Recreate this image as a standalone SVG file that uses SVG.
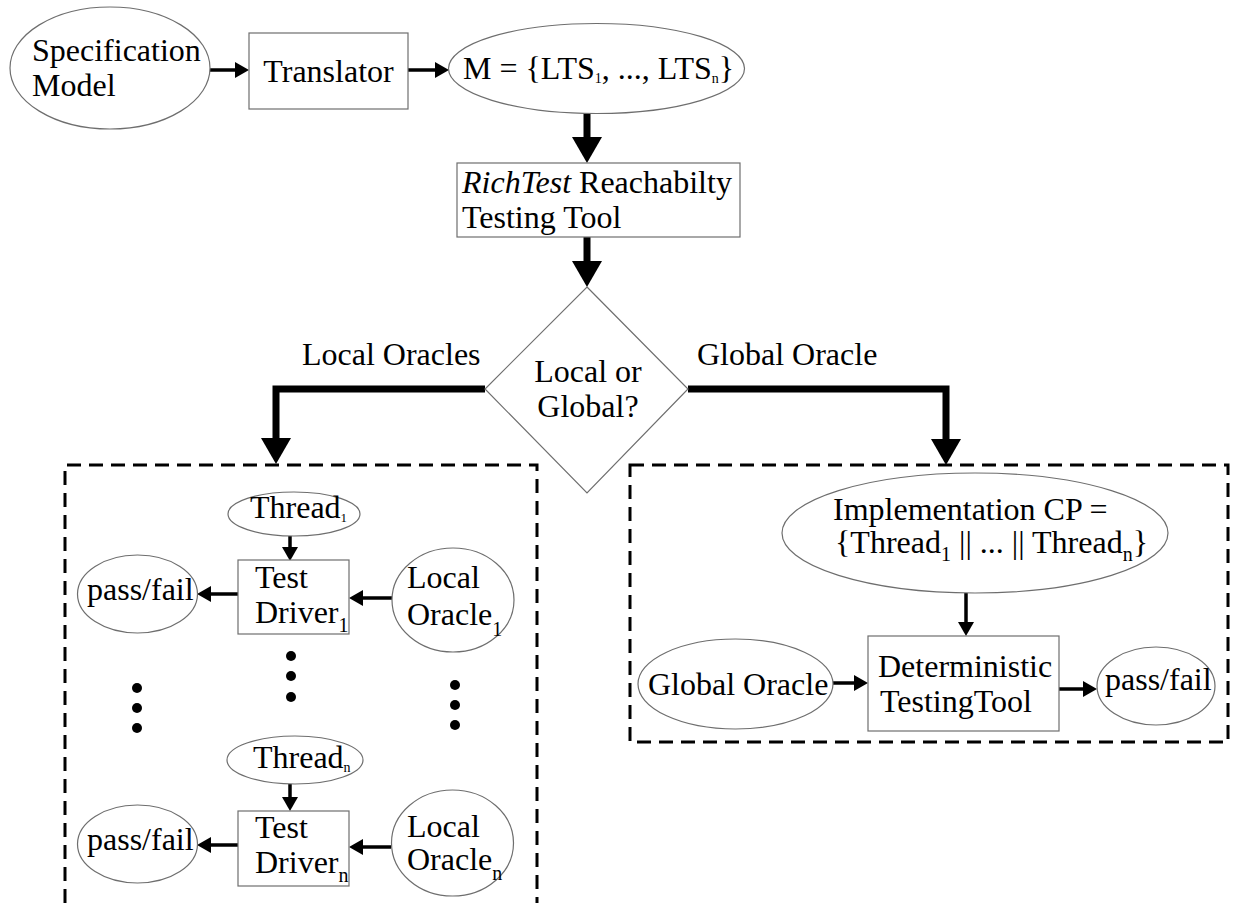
<svg xmlns="http://www.w3.org/2000/svg" width="1233" height="903" viewBox="0 0 1233 903">
<style>
text{font-family:"Liberation Serif","Times New Roman",serif;font-size:32px;fill:#000}
.shape{fill:#fff;stroke:#6e6e6e;stroke-width:1.2}
.dash{fill:none;stroke:#000;stroke-width:3;stroke-dasharray:14 8}
.thin{fill:none;stroke:#000;stroke-width:3.5}
.thick{fill:none;stroke:#000;stroke-width:7}
.dot{fill:#000}
.sub1{font-size:14px}
.sub2{font-size:20px}
</style>
<defs>
<marker id="ahS" markerUnits="userSpaceOnUse" markerWidth="14" markerHeight="16" refX="0" refY="8" orient="auto"><path d="M0,0 L14,8 L0,16 z" fill="#000"/></marker>
<marker id="ahL" markerUnits="userSpaceOnUse" markerWidth="26" markerHeight="30" refX="0" refY="15" orient="auto"><path d="M0,0 L26,15 L0,30 z" fill="#000"/></marker>
</defs>

<g id="frames">
<path class="dash" d="M65,903 V465 H537 V903"/>
<rect class="dash" x="630" y="465" width="598" height="277"/>
</g>

<g id="connectors">
<line class="thin" x1="210" y1="70" x2="235" y2="70" marker-end="url(#ahS)"/>
<line class="thin" x1="408" y1="70" x2="435" y2="70" marker-end="url(#ahS)"/>
<line class="thick" x1="587" y1="113" x2="587" y2="137" marker-end="url(#ahL)"/>
<line class="thick" x1="587" y1="237" x2="587" y2="261" marker-end="url(#ahL)"/>
<path class="thick" d="M485,389 H276 V438" marker-end="url(#ahL)"/>
<path class="thick" d="M688,389 H946 V439" marker-end="url(#ahL)"/>
<line class="thin" x1="290" y1="536" x2="290" y2="547" marker-end="url(#ahS)"/>
<line class="thin" x1="238" y1="594" x2="211" y2="594" marker-end="url(#ahS)"/>
<line class="thin" x1="392" y1="598" x2="363" y2="598" marker-end="url(#ahS)"/>
<line class="thin" x1="290" y1="784" x2="290" y2="797" marker-end="url(#ahS)"/>
<line class="thin" x1="238" y1="845" x2="211" y2="845" marker-end="url(#ahS)"/>
<line class="thin" x1="391" y1="847" x2="363" y2="847" marker-end="url(#ahS)"/>
<line class="thin" x1="966" y1="593" x2="966" y2="622" marker-end="url(#ahS)"/>
<line class="thin" x1="833" y1="683" x2="854" y2="683" marker-end="url(#ahS)"/>
<line class="thin" x1="1059" y1="689" x2="1083" y2="689" marker-end="url(#ahS)"/>
</g>

<g id="spec">
<ellipse class="shape" cx="110" cy="68" rx="100" ry="61"/>
<text x="32" y="61">Specification</text>
<text x="32" y="96">Model</text>
</g>

<g id="translator">
<rect class="shape" x="249" y="33" width="159" height="76"/>
<text x="328.5" y="82" text-anchor="middle">Translator</text>
</g>

<g id="model">
<ellipse class="shape" cx="596.5" cy="68.5" rx="148" ry="45"/>
<text x="463" y="79">M = {LTS<tspan class="sub1" dy="4">1</tspan><tspan dy="-4">, ..., LTS</tspan><tspan class="sub1" dy="4">n</tspan><tspan dy="-4">}</tspan></text>
</g>

<g id="richtest">
<rect class="shape" x="457" y="163" width="283" height="74"/>
<text x="462" y="193"><tspan font-style="italic">RichTest</tspan> Reachabilty</text>
<text x="462" y="228">Testing Tool</text>
</g>

<g id="decision">
<polygon class="shape" points="587,287 688,389 587,493 485,389"/>
<text x="588" y="382" text-anchor="middle">Local or</text>
<text x="588" y="417" text-anchor="middle">Global?</text>
</g>

<g id="labels">
<text x="302" y="365">Local Oracles</text>
<text x="697" y="365">Global Oracle</text>
</g>

<g id="thread1">
<ellipse class="shape" cx="294" cy="514" rx="66" ry="22"/>
<text x="250" y="518">Thread<tspan style="font-size:13px" dy="4">1</tspan></text>
</g>
<g id="driver1">
<rect class="shape" x="238" y="560" width="111" height="74"/>
<text x="255" y="588">Test</text>
<text x="255" y="623">Driver<tspan class="sub2" dy="9">1</tspan></text>
</g>
<g id="passfail1">
<ellipse class="shape" cx="137.5" cy="594" rx="60" ry="39"/>
<text x="87" y="600">pass/fail</text>
</g>
<g id="localoracle1">
<ellipse class="shape" cx="453" cy="600" rx="61" ry="52"/>
<text x="407" y="588">Local</text>
<text x="407" y="625">Oracle<tspan class="sub2" dy="11">1</tspan></text>
</g>

<g id="dots">
<circle class="dot" cx="291" cy="656" r="5"/>
<circle class="dot" cx="291" cy="676" r="5"/>
<circle class="dot" cx="291" cy="697" r="5"/>
<circle class="dot" cx="137" cy="688" r="5"/>
<circle class="dot" cx="137" cy="708" r="5"/>
<circle class="dot" cx="137" cy="728" r="5"/>
<circle class="dot" cx="455" cy="685" r="5"/>
<circle class="dot" cx="455" cy="705" r="5"/>
<circle class="dot" cx="455" cy="725" r="5"/>
</g>

<g id="threadn">
<ellipse class="shape" cx="295" cy="760" rx="68" ry="24"/>
<text x="253" y="768">Thread<tspan style="font-size:14px" dy="4">n</tspan></text>
</g>
<g id="drivern">
<rect class="shape" x="238" y="811" width="111" height="75"/>
<text x="255" y="838">Test</text>
<text x="255" y="873">Driver<tspan class="sub2" dy="9">n</tspan></text>
</g>
<g id="passfailn">
<ellipse class="shape" cx="137.5" cy="844" rx="60" ry="39"/>
<text x="87" y="850">pass/fail</text>
</g>
<g id="localoraclen">
<ellipse class="shape" cx="452.5" cy="843" rx="61" ry="53"/>
<text x="407" y="837">Local</text>
<text x="407" y="870">Oracle<tspan class="sub2" dy="10">n</tspan></text>
</g>

<g id="implementation">
<ellipse class="shape" cx="975" cy="533" rx="193" ry="60"/>
<text x="833" y="520">Implementation CP =</text>
<text x="835" y="553">{Thread<tspan class="sub2" dy="8">1</tspan><tspan dy="-8"> || ... || Thread</tspan><tspan class="sub2" dy="8">n</tspan><tspan dy="-8">}</tspan></text>
</g>
<g id="globaloracle">
<ellipse class="shape" cx="735.5" cy="684" rx="97.5" ry="45"/>
<text x="648" y="695">Global Oracle</text>
</g>
<g id="deterministic">
<rect class="shape" x="868" y="636" width="191" height="95"/>
<text x="878" y="677">Deterministic</text>
<text x="880" y="712">TestingTool</text>
</g>
<g id="passfailg">
<ellipse class="shape" cx="1156" cy="686" rx="59" ry="39"/>
<text x="1105" y="690">pass/fail</text>
</g>
</svg>
